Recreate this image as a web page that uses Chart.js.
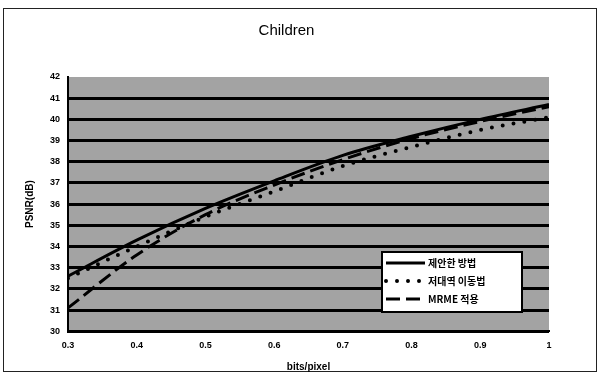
<!DOCTYPE html>
<html>
<head>
<meta charset="utf-8">
<script src="https://cdn.jsdelivr.net/npm/chart.js@4/dist/chart.umd.min.js"></script>
<style>
  html, body { margin: 0; padding: 0; background: #fff; }
  #wrap { width: 599px; height: 376px; position: relative; }
</style>
</head>
<body>
<div id="wrap"><canvas id="chart"></canvas></div>
<script>
// data
const bitsPerPixel = [0.3, 0.4, 0.5, 0.6, 0.7, 0.8, 0.9, 1.0];
const proposed = [32.6, 34.3, 35.8, 37.1, 38.3, 39.2, 40.0, 40.7];
const lowBandShift = [32.5, 34.0, 35.4, 36.6, 37.8, 38.7, 39.5, 40.1];
const mrme = [31.1, 33.6, 35.5, 36.9, 38.1, 39.1, 39.9, 40.6];
const seriesNames = ["제안한 방법", "저대역 이동법", "MRME 적용"];
const xTicks = [0.3, 0.4, 0.5, 0.6, 0.7, 0.8, 0.9, 1];
const yTicks = [30, 31, 32, 33, 34, 35, 36, 37, 38, 39, 40, 41, 42];

const labelFont = { family: "'Liberation Sans', Arial, sans-serif", size: 9, weight: "bold" };

const points = (ys) => bitsPerPixel.map((x, i) => ({ x: x, y: ys[i] }));

// grey plot area + outer frame
const frame = {
  id: "frame",
  beforeDraw(chart) {
    const { ctx, chartArea: a } = chart;
    ctx.save();
    ctx.fillStyle = "#a3a3a3";
    ctx.fillRect(a.left, a.top, a.right - a.left, a.bottom - a.top);
    ctx.strokeStyle = "#222";
    ctx.lineWidth = 1;
    ctx.strokeRect(3.5, 8.5, 593, 363);
    ctx.restore();
  }
};

// legend box drawn inside the plot, lower right
const boxLegend = {
  id: "boxLegend",
  afterDraw(chart) {
    const { ctx } = chart;
    const x = 382, y = 252, w = 140, h = 60;
    ctx.save();
    ctx.fillStyle = "#fff";
    ctx.fillRect(x, y, w, h);
    ctx.strokeStyle = "#000";
    ctx.lineWidth = 2;
    ctx.strokeRect(x, y, w, h);
    const rows = [263, 281, 299];
    chart.data.datasets.forEach((ds, i) => {
      ctx.beginPath();
      ctx.strokeStyle = ds.borderColor;
      ctx.lineWidth = ds.borderWidth;
      ctx.lineCap = ds.borderCapStyle || "butt";
      ctx.setLineDash(ds.borderDash || []);
      ctx.moveTo(386, rows[i]);
      ctx.lineTo(425, rows[i]);
      ctx.stroke();
      ctx.setLineDash([]);
      ctx.fillStyle = "#000";
      ctx.font = "bold 10px 'Noto Sans CJK KR', 'Liberation Sans', sans-serif";
      ctx.textBaseline = "middle";
      ctx.fillText(ds.label, 428, rows[i]);
    });
    ctx.restore();
  }
};

new Chart(document.getElementById("chart"), {
  type: "line",
  data: {
    datasets: [
      { label: seriesNames[0], data: points(proposed), borderColor: "#000", borderWidth: 3,
        pointRadius: 0, cubicInterpolationMode: "monotone" },
      { label: seriesNames[1], data: points(lowBandShift), borderColor: "#000", borderWidth: 4,
        borderDash: [0, 11], borderCapStyle: "round", pointRadius: 0, cubicInterpolationMode: "monotone" },
      { label: seriesNames[2], data: points(mrme), borderColor: "#000", borderWidth: 3,
        borderDash: [14, 6], pointRadius: 0, cubicInterpolationMode: "monotone" }
    ]
  },
  options: {
    responsive: true,
    maintainAspectRatio: false,
    animation: false,
    layout: { padding: { left: 24, right: 50, top: 0, bottom: 3 } },
    plugins: {
      legend: { display: false },
      tooltip: { enabled: false },
      title: {
        display: true,
        text: "Children",
        color: "#000",
        font: { family: "'Liberation Sans', Arial, sans-serif", size: 15, weight: "normal" },
        padding: { top: 22, bottom: 37 }
      }
    },
    scales: {
      x: {
        type: "linear",
        min: 0.3,
        max: 1,
        afterBuildTicks: (s) => { s.ticks = xTicks.map(v => ({ value: v })); },
        ticks: { color: "#000", font: labelFont, maxRotation: 0, padding: 1,
                 callback: (v) => String(v) },
        grid: { display: false },
        border: { display: true, color: "#000", width: 2 },
        title: { display: true, text: "bits/pixel", color: "#000",
                 font: { family: "'Liberation Sans', Arial, sans-serif", size: 10, weight: "bold" },
                 padding: { top: 9, bottom: 0 } }
      },
      y: {
        min: 30,
        max: 42,
        afterBuildTicks: (s) => { s.ticks = yTicks.map(v => ({ value: v })); },
        afterFit: (s) => { s.width = 44; },
        ticks: { color: "#000", font: labelFont, padding: 8 },
        grid: {
          drawTicks: false,
          color: (c) => (c.tick && c.tick.value === 42) ? "rgba(0,0,0,0)" : "#000",
          lineWidth: 3
        },
        border: { display: true, color: "#000", width: 2 },
        title: { display: true, text: "PSNR(dB)", color: "#000",
                 font: { family: "'Liberation Sans', Arial, sans-serif", size: 10, weight: "bold" },
                 padding: { top: 0, bottom: 0 } }
      }
    }
  },
  plugins: [frame, boxLegend]
});
</script>
</body>
</html>
